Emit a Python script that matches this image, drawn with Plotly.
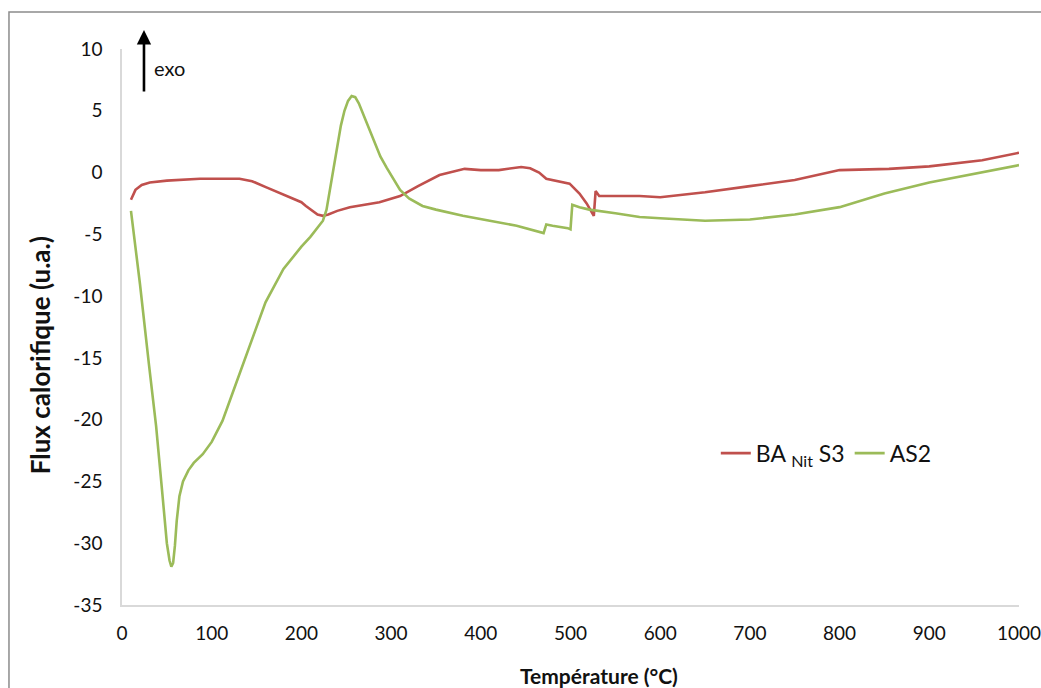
import plotly.graph_objects as go

# Temperature (°C) and heat flow (a.u.) for sample BA Nit S3
temp_ba = [10, 15, 22, 31, 50, 87, 131, 145, 161, 183, 200, 205, 212, 218, 224, 230,
           240, 254, 287, 310, 330, 354, 382, 400, 420, 430, 445, 455, 465, 473, 499,
           510, 518, 526, 528, 532, 577, 600, 650, 700, 750, 800, 855, 900, 922, 959,
           1000]
flux_ba = [-2.2, -1.4, -1.0, -0.8, -0.65, -0.5, -0.5, -0.7, -1.2, -1.9, -2.4, -2.7,
           -3.1, -3.4, -3.5, -3.4, -3.1, -2.8, -2.4, -1.9, -1.1, -0.2, 0.3, 0.2, 0.2,
           0.3, 0.45, 0.35, 0.0, -0.5, -0.9, -1.7, -2.5, -3.5, -1.5, -1.9, -1.9, -2.0,
           -1.6, -1.1, -0.6, 0.2, 0.3, 0.5, 0.7, 1.0, 1.6]

# Temperature (°C) and heat flow (a.u.) for sample AS2
temp_as2 = [10, 20, 30, 38, 45, 50, 53, 55, 57, 59, 61, 64, 68, 74, 80, 90, 100, 112,
            125, 140, 160, 180, 200, 210, 218, 224, 228, 232, 236, 240, 244, 248, 252,
            256, 260, 264, 268, 273, 280, 288, 295, 303, 310, 320, 335, 350, 380, 410,
            440, 470, 473, 480, 497, 500, 502, 510, 521, 550, 577, 600, 650, 700, 750,
            800, 850, 900, 950, 1000]
flux_as2 = [-3.1, -9.0, -15.5, -20.5, -26.0, -30.0, -31.4, -31.9, -31.6, -30.2, -28.2,
            -26.2, -25.0, -24.1, -23.5, -22.8, -21.8, -20.1, -17.5, -14.5, -10.5, -7.8,
            -6.0, -5.2, -4.5, -3.9, -3.0, -1.3, 0.5, 2.2, 3.8, 5.0, 5.8, 6.2, 6.1, 5.6,
            4.9, 3.9, 2.7, 1.3, 0.4, -0.6, -1.4, -2.1, -2.7, -3.0, -3.5, -3.9, -4.3,
            -4.9, -4.2, -4.3, -4.5, -4.6, -2.6, -2.8, -3.0, -3.3, -3.6, -3.7, -3.9,
            -3.8, -3.4, -2.8, -1.7, -0.8, -0.1, 0.6]

x_ticks = list(range(0, 1001, 100))
y_ticks = list(range(-35, 11, 5))
y_ticktext = [str(v) for v in y_ticks]

FONT = "Lato"
RED = "#C0504D"
GREEN = "#9BBB59"

fig = go.Figure()
fig.add_trace(go.Scatter(x=temp_ba, y=flux_ba, mode="lines", name="BA <sub>Nit</sub> S3",
                         line=dict(color=RED, width=2.6)))
fig.add_trace(go.Scatter(x=temp_as2, y=flux_as2, mode="lines", name="AS2",
                         line=dict(color=GREEN, width=2.6)))

fig.update_layout(
    width=1041, height=688,
    margin=dict(l=122, r=22, t=49, b=83),
    paper_bgcolor="white", plot_bgcolor="white",
    font=dict(family=FONT, color="#111", size=19),
    showlegend=True,
    legend=dict(orientation="h", x=0.662, y=0.273, xanchor="left", yanchor="middle",
                font=dict(size=23, color="#111"), bgcolor="rgba(0,0,0,0)",
                itemwidth=30, tracegroupgap=0),
    xaxis=dict(range=[0, 1000], tickvals=x_ticks, showgrid=False, zeroline=False,
               showline=True, linecolor="#D9D9D9", linewidth=1.5, ticks="",
               automargin=False, tickfont=dict(size=19), ticklabelstandoff=10,
               ticklabeloverflow="allow"),
    yaxis=dict(range=[-35, 10], tickvals=y_ticks, ticktext=y_ticktext, showgrid=False,
               zeroline=False, showline=True, linecolor="#D9D9D9", linewidth=1.5,
               ticks="", automargin=False, tickfont=dict(size=19),
               ticklabelstandoff=14),
)

# axis titles
fig.add_annotation(x=0.532, y=-0.126, xref="paper", yref="paper",
                   text="<b>Température (°C)</b>", showarrow=False,
                   xanchor="center", yanchor="middle", font=dict(size=21, color="#111"))
fig.add_annotation(x=-0.092, y=0.45, xref="paper", yref="paper",
                   text="<b>Flux calorifique (u.a.)</b>", showarrow=False, textangle=-90,
                   xanchor="center", yanchor="middle", font=dict(size=26, color="#111"))

# "exo" direction arrow
fig.add_annotation(x=24.5, y=1.034, xref="x", yref="paper", ax=0, ay=63,
                   axref="pixel", ayref="pixel", showarrow=True, arrowhead=2,
                   arrowsize=1.1, arrowwidth=2.6, arrowcolor="black", text="")
fig.add_annotation(x=53, y=0.966, xref="x", yref="paper", text="exo",
                   showarrow=False, xanchor="center", yanchor="middle",
                   font=dict(size=20, color="#111"))

# chart frame
fig.add_shape(type="rect", xref="paper", yref="paper", x0=-0.126, y0=-0.2,
              x1=1.1, y1=1.0665, line=dict(color="#8C8C8C", width=1.5),
              layer="below")

fig.write_html("out.html")
